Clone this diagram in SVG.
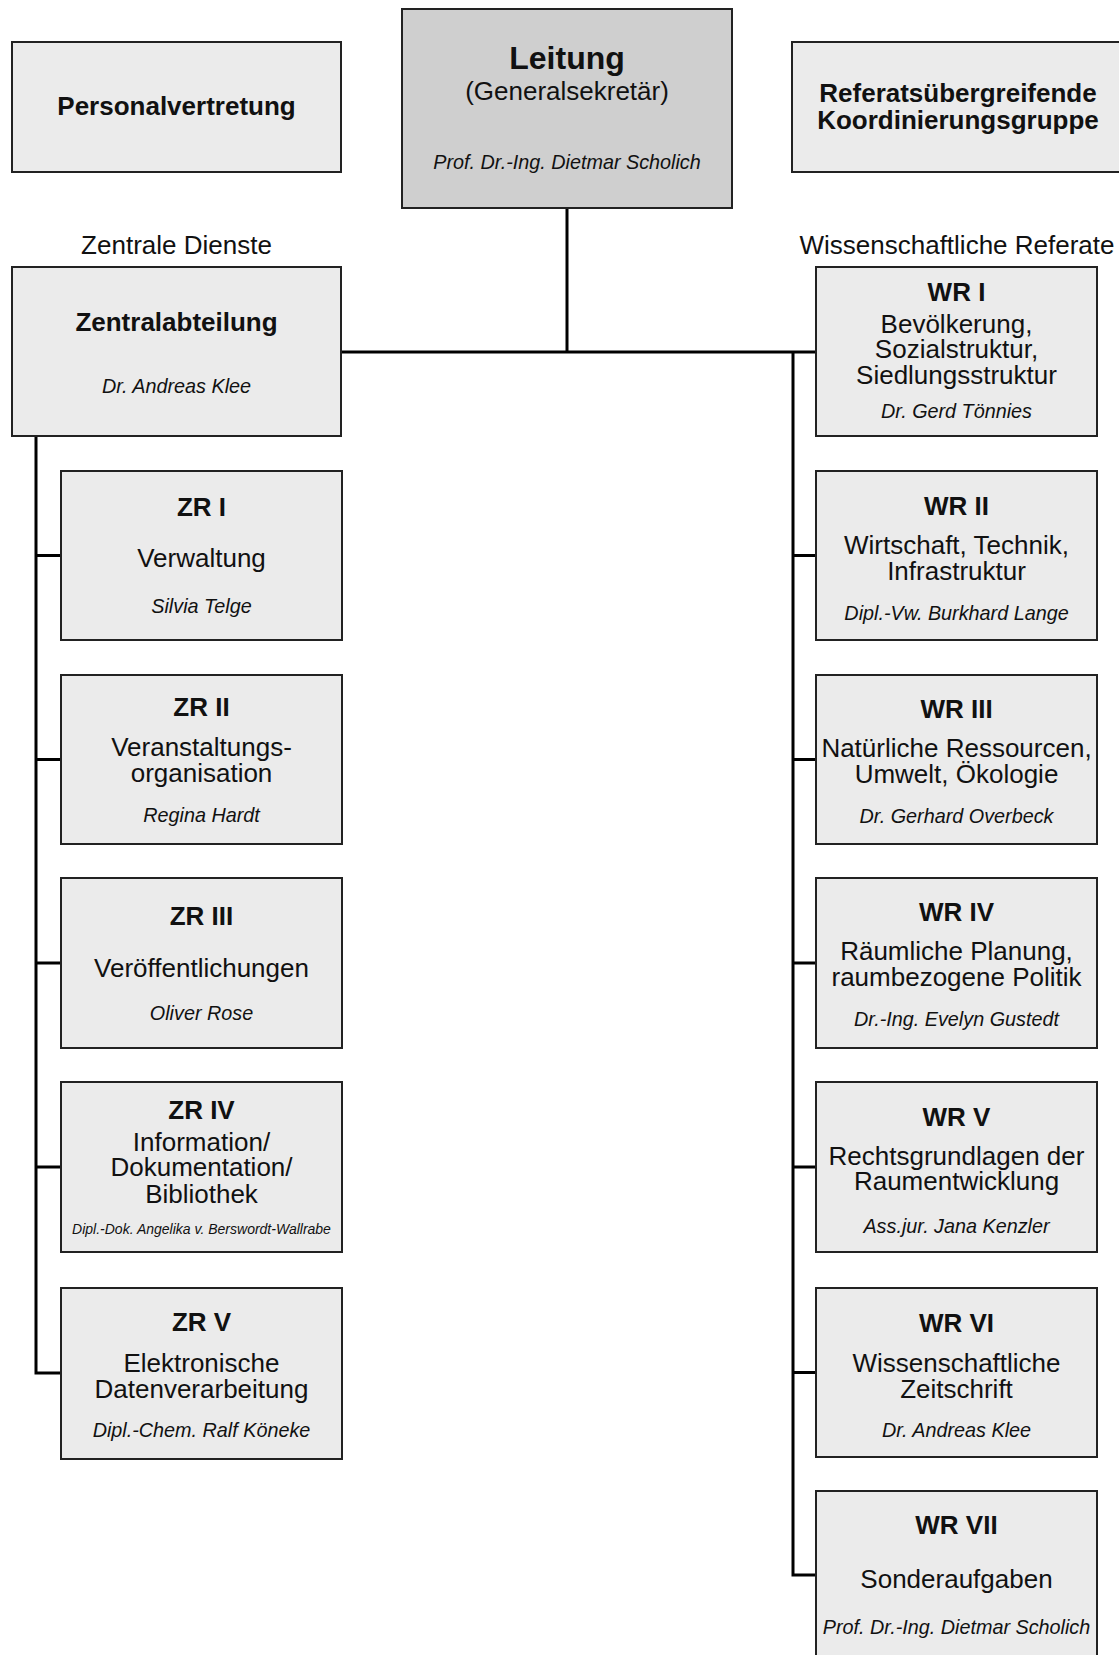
<svg xmlns="http://www.w3.org/2000/svg" width="1119" height="1655" viewBox="0 0 1119 1655">
<style>
.box{fill:#ebebeb;stroke:#222;stroke-width:2}
.lead{fill:#cfcfcf;stroke:#222;stroke-width:2}
.con{fill:none;stroke:#000;stroke-width:3;stroke-linecap:square}
text{font-family:"Liberation Sans",Arial,sans-serif;fill:#111;text-anchor:middle}
.t{font-size:26px;font-weight:bold}
.b{font-size:26px}
.n{font-size:19.8px;font-style:italic}
.s{font-size:14px;font-style:italic}
.h{font-size:32px;font-weight:bold}
</style>
<rect width="1119" height="1655" fill="#fff"/>
<g id="connectors">
<path class="con" d="M567 208 V352 M341 352 H816 M793 352 V1575 H816 M793 555.5 H816 M793 759.5 H816 M793 963 H816 M793 1167 H816 M793 1372.5 H816"/>
<path class="con" d="M36 436 V1373 H61 M36 555.5 H61 M36 759.5 H61 M36 963 H61 M36 1167 H61"/>
</g>
<g id="personalvertretung"><rect class="box" x="12" y="42" width="329" height="130"/><text class="t" x="176.5" y="115">Personalvertretung</text></g>
<g id="leitung"><rect class="lead" x="402" y="9" width="330" height="199"/><text class="h" x="567" y="69">Leitung</text><text class="b" x="567" y="100">(Generalsekretär)</text><text class="n" x="567" y="169">Prof. Dr.-Ing. Dietmar Scholich</text></g>
<g id="koordinierungsgruppe"><rect class="box" x="792" y="42" width="330" height="130"/><text class="t" x="958" y="102">Referatsübergreifende</text><text class="t" x="958" y="129">Koordinierungsgruppe</text></g>
<g id="labels"><text class="b" x="176.5" y="254">Zentrale Dienste</text><text class="b" x="957" y="254">Wissenschaftliche Referate</text></g>
<g id="zentralabteilung"><rect class="box" x="12" y="267" width="329" height="169"/><text class="t" x="176.5" y="331">Zentralabteilung</text><text class="n" x="176.5" y="393">Dr. Andreas Klee</text></g>
<g id="zr1"><rect class="box" x="61" y="471" width="281" height="169"/><text class="t" x="201.5" y="516">ZR I</text><text class="b" x="201.5" y="567">Verwaltung</text><text class="n" x="201.5" y="613">Silvia Telge</text></g>
<g id="zr2"><rect class="box" x="61" y="675" width="281" height="169"/><text class="t" x="201.5" y="716">ZR II</text><text class="b" x="201.5" y="756">Veranstaltungs-</text><text class="b" x="201.5" y="782">organisation</text><text class="n" x="201.5" y="822">Regina Hardt</text></g>
<g id="zr3"><rect class="box" x="61" y="878" width="281" height="170"/><text class="t" x="201.5" y="925">ZR III</text><text class="b" x="201.5" y="977">Veröffentlichungen</text><text class="n" x="201.5" y="1020">Oliver Rose</text></g>
<g id="zr4"><rect class="box" x="61" y="1082" width="281" height="170"/><text class="t" x="201.5" y="1119">ZR IV</text><text class="b" x="201.5" y="1151">Information/</text><text class="b" x="201.5" y="1176">Dokumentation/</text><text class="b" x="201.5" y="1203">Bibliothek</text><text class="s" x="201.5" y="1234">Dipl.-Dok. Angelika v. Berswordt-Wallrabe</text></g>
<g id="zr5"><rect class="box" x="61" y="1288" width="281" height="171"/><text class="t" x="201.5" y="1331">ZR V</text><text class="b" x="201.5" y="1372">Elektronische</text><text class="b" x="201.5" y="1398">Datenverarbeitung</text><text class="n" x="201.5" y="1437">Dipl.-Chem. Ralf Köneke</text></g>
<g id="wr1"><rect class="box" x="816" y="267" width="281" height="169"/><text class="t" x="956.5" y="301">WR I</text><text class="b" x="956.5" y="333">Bevölkerung,</text><text class="b" x="956.5" y="358">Sozialstruktur,</text><text class="b" x="956.5" y="384">Siedlungsstruktur</text><text class="n" x="956.5" y="418">Dr. Gerd Tönnies</text></g>
<g id="wr2"><rect class="box" x="816" y="471" width="281" height="169"/><text class="t" x="956.5" y="515">WR II</text><text class="b" x="956.5" y="554">Wirtschaft, Technik,</text><text class="b" x="956.5" y="580">Infrastruktur</text><text class="n" x="956.5" y="620">Dipl.-Vw. Burkhard Lange</text></g>
<g id="wr3"><rect class="box" x="816" y="675" width="281" height="169"/><text class="t" x="956.5" y="718">WR III</text><text class="b" x="956.5" y="757">Natürliche Ressourcen,</text><text class="b" x="956.5" y="783">Umwelt, Ökologie</text><text class="n" x="956.5" y="823">Dr. Gerhard Overbeck</text></g>
<g id="wr4"><rect class="box" x="816" y="878" width="281" height="170"/><text class="t" x="956.5" y="921">WR IV</text><text class="b" x="956.5" y="960">Räumliche Planung,</text><text class="b" x="956.5" y="986">raumbezogene Politik</text><text class="n" x="956.5" y="1026">Dr.-Ing. Evelyn Gustedt</text></g>
<g id="wr5"><rect class="box" x="816" y="1082" width="281" height="170"/><text class="t" x="956.5" y="1126">WR V</text><text class="b" x="956.5" y="1165">Rechtsgrundlagen der</text><text class="b" x="956.5" y="1190">Raumentwicklung</text><text class="n" x="956.5" y="1233">Ass.jur. Jana Kenzler</text></g>
<g id="wr6"><rect class="box" x="816" y="1288" width="281" height="169"/><text class="t" x="956.5" y="1332">WR VI</text><text class="b" x="956.5" y="1372">Wissenschaftliche</text><text class="b" x="956.5" y="1398">Zeitschrift</text><text class="n" x="956.5" y="1437">Dr. Andreas Klee</text></g>
<g id="wr7"><rect class="box" x="816" y="1491" width="281" height="170"/><text class="t" x="956.5" y="1534">WR VII</text><text class="b" x="956.5" y="1588">Sonderaufgaben</text><text class="n" x="956.5" y="1634">Prof. Dr.-Ing. Dietmar Scholich</text></g>
</svg>
